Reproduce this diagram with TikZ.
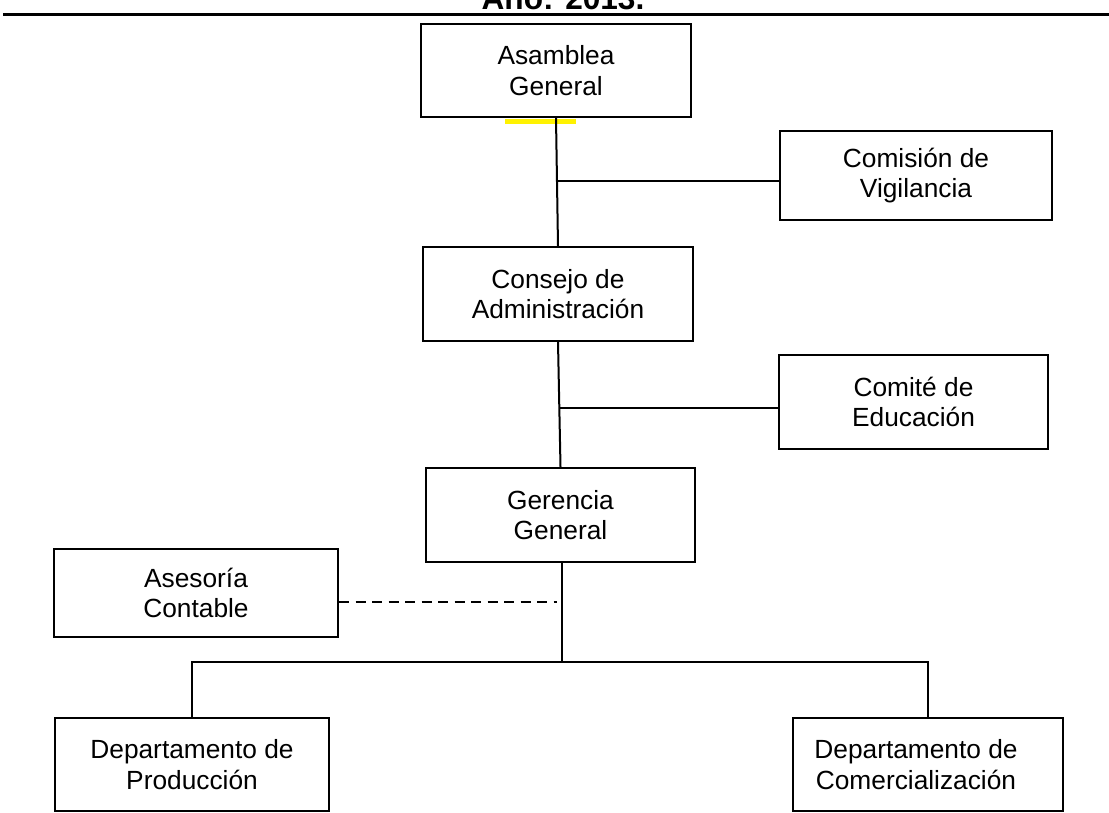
\documentclass[tikz,border=0pt]{standalone}
\usepackage{fontspec}
\setmainfont{Liberation Sans}
\usetikzlibrary{calc}
\tikzset{
  unitbox/.style={draw=black, line width=2pt, fill=white, align=center,
    font=\fontsize{26.3}{30.5}\selectfont, inner sep=0pt},
  link/.style={draw=black, line width=2pt},
  dashlink/.style={link, dash pattern=on 10pt off 6.5pt},
}
\begin{document}
\begin{tikzpicture}[x=1pt, y=-1pt]
  \useasboundingbox (0,0) rectangle (1109,813);
  \clip (0,0) rectangle (1109,813);

  % heading and rule
  \node[anchor=base, font=\fontsize{31.6}{36}\selectfont\bfseries, inner sep=0pt] (title) at (563,10) {Año: 2013.};
  \draw[line width=2.6pt] (3,14.5) coordinate (ruleL) -- (1109,14.5) coordinate (ruleR);

  % boxes
  \node[unitbox, minimum width=270pt, minimum height=93pt] (asamblea) at (556,70.5) {Asamblea\\General};
  \node[unitbox, minimum width=272pt, minimum height=89pt] (comision) at (916,175.5) {Comisión de\\Vigilancia};
  \node[unitbox, minimum width=270pt, minimum height=94pt] (consejo) at (558,294) {Consejo de\\Administración};
  \node[unitbox, minimum width=269pt, minimum height=94pt] (comite) at (913.5,402) {Comité de\\Educación};
  \node[unitbox, minimum width=269pt, minimum height=94pt] (gerencia) at (560.5,515) {Gerencia\\General};
  \node[unitbox, minimum width=284pt, minimum height=88pt] (asesoria) at (196,593) {Asesoría\\Contable};
  \node[unitbox, minimum width=274pt, minimum height=93pt] (produccion) at (192,764.5) {Departamento de\\Producción};
  \node[unitbox, minimum width=270pt, minimum height=93pt] (comercial) at (928,764.5)
    {Departamento de\hspace*{24pt}\\Comercialización\hspace*{24pt}};

  % yellow mark under the top box
  \fill[yellow] ($(asamblea.south)+(-51,1)$) rectangle ($(asamblea.south)+(20,6)$);

  % connectors
  \coordinate (j1) at ($(asamblea.south)!0.49!(consejo.north)$);
  \coordinate (j2) at ($(consejo.south)!0.53!(gerencia.north)$);
  \coordinate (j3) at ($(gerencia.south)+(1.5,99)$);
  \coordinate (jd) at ($(gerencia.south)!0.39!(j3)$);

  \draw[link] (asamblea.south) -- (consejo.north);
  \draw[link] (j1) -- (j1 -| comision.west);
  \draw[link] (consejo.south) -- (gerencia.north);
  \draw[link] (j2) -- (j2 -| comite.west);
  \draw[link] ($(gerencia.south)+(1.5,0)$) -- (j3);
  \draw[link] (produccion.north) |- (j3) -| (comercial.north);
  \draw[dashlink] (jd -| asesoria.east) -- ($(jd)+(-4,0)$);
\end{tikzpicture}
\end{document}
